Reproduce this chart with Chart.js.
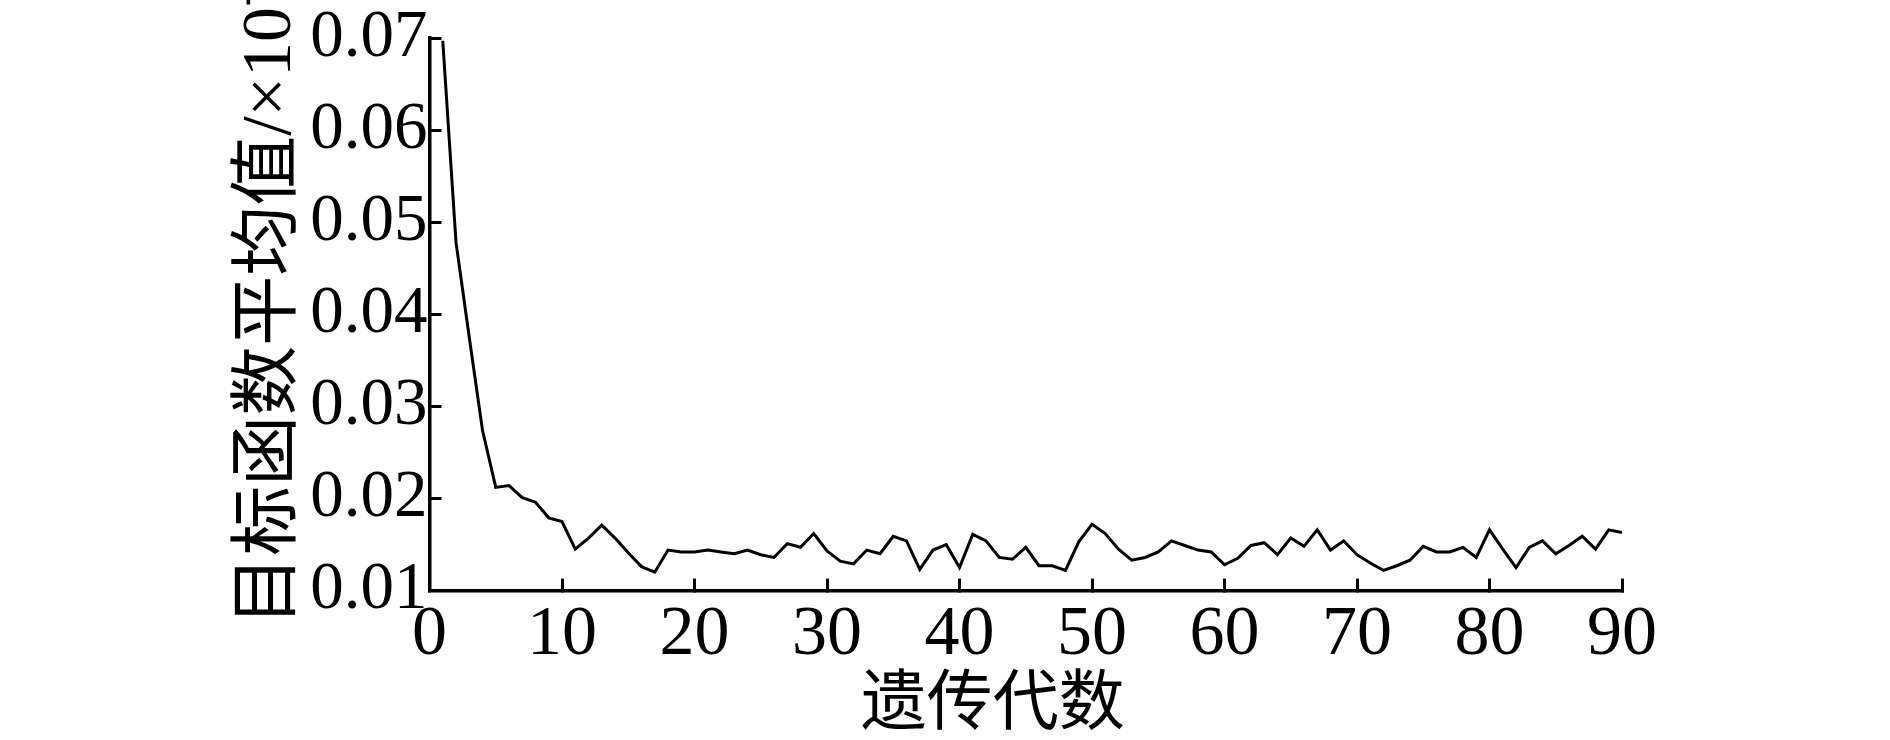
<!DOCTYPE html>
<html>
    <head>
        <meta charset="utf-8">
        <script src="https://cdn.jsdelivr.net/npm/chart.js"></script>
        <style>
            body {
                margin: 0;
                background: #ffffff;
            }
        </style>
    </head>

    <body>
        <canvas id="myChart" width="1890" height="740"></canvas>

        <script>
            // generations 1..90 and the mean objective value of each one
            const generations = [];
            for (let g = 1; g <= 90; ++ g) {
                generations.push(g);
            }
            const meanValues = [
                0.0697, 0.0478, 0.0375, 0.0274, 0.0212, 0.0214, 0.0201, 0.0196, 0.0179, 0.0175,
                0.0145, 0.0157, 0.0171, 0.0157, 0.0141, 0.0126, 0.0120, 0.0144, 0.0142, 0.0142,
                0.0144, 0.0142, 0.0140, 0.0144, 0.0139, 0.0136, 0.0151, 0.0147, 0.0162, 0.0143,
                0.0132, 0.0129, 0.0144, 0.0140, 0.0159, 0.0154, 0.0123, 0.0144, 0.0150, 0.0125,
                0.0161, 0.0154, 0.0136, 0.0134, 0.0147, 0.0127, 0.0127, 0.0122, 0.0153, 0.0172,
                0.0162, 0.0145, 0.0133, 0.0136, 0.0142, 0.0154, 0.0149, 0.0144, 0.0142, 0.0128,
                0.0135, 0.0149, 0.0152, 0.0139, 0.0157, 0.0148, 0.0166, 0.0144, 0.0154, 0.0139,
                0.0130, 0.0122, 0.0127, 0.0133, 0.0148, 0.0142, 0.0142, 0.0147, 0.0136, 0.0166,
                0.0145, 0.0125, 0.0147, 0.0154, 0.0140, 0.0149, 0.0159, 0.0145, 0.0166, 0.0163
            ];
            const xTicks = [0, 10, 20, 30, 40, 50, 60, 70, 80, 90];
            const yTicks = [0.01, 0.02, 0.03, 0.04, 0.05, 0.06, 0.07];
            const xTitle = '遗传代数';
            const yTitle = '目标函数平均值/×10⁻³';

            const points = generations.map((g, i) => ({ x: g, y: meanValues[i] }));

            const serif = "'Liberation Serif', 'Noto Sans CJK SC', serif";

            const ctx = document.getElementById('myChart').getContext('2d');
            const myChart = new Chart(ctx, {
                type: 'line',
                data: {
                    datasets: [
                        {
                            data: points,
                            borderColor: '#000000',
                            borderWidth: 3,
                            pointRadius: 0,
                            fill: false,
                            tension: 0
                        }
                    ]
                },
                options: {
                    responsive: false,
                    animation: false,
                    devicePixelRatio: 1,
                    layout: {
                        padding: { left: 200, right: 268, top: 38, bottom: 0 }
                    },
                    plugins: {
                        legend: { display: false },
                        tooltip: { enabled: false }
                    },
                    scales: {
                        x: {
                            type: 'linear',
                            min: xTicks[0],
                            max: xTicks[xTicks.length - 1],
                            afterBuildTicks: (scale) => {
                                scale.ticks = xTicks.map(v => ({ value: v }));
                            },
                            border: { display: true, color: '#000000', width: 3.5 },
                            grid: {
                                drawOnChartArea: false,
                                color: '#000000',
                                lineWidth: 3,
                                tickLength: -12
                            },
                            ticks: {
                                color: '#000000',
                                padding: 22.5,
                                maxRotation: 0,
                                font: { family: serif, size: 70, lineHeight: 1 },
                                callback: (v) => String(v)
                            },
                            title: {
                                display: true,
                                // trailing ideographic space moves the title a little left, as in the figure
                                text: xTitle + '\u3000',
                                color: '#000000',
                                padding: { top: 0, bottom: 20 },
                                font: { family: serif, size: 66, lineHeight: 0.4 }
                            }
                        },
                        y: {
                            min: yTicks[0],
                            max: yTicks[yTicks.length - 1],
                            afterBuildTicks: (scale) => {
                                scale.ticks = yTicks.map(v => ({ value: v }));
                            },
                            border: { display: true, color: '#000000', width: 3.5 },
                            grid: {
                                drawOnChartArea: false,
                                color: '#000000',
                                lineWidth: 3,
                                tickLength: -12
                            },
                            ticks: {
                                color: '#000000',
                                padding: 14,
                                font: { family: serif, size: 67, lineHeight: 0.716 },
                                callback: (v) => Number(v).toFixed(2)
                            },
                            title: {
                                display: true,
                                text: '\u2002\u200A' + yTitle,
                                color: '#000000',
                                padding: { top: 56, bottom: 8.75 },
                                font: { family: serif, size: 70, lineHeight: 0.45 }
                            }
                        }
                    }
                }
            });
        </script>
    </body>
</html>
